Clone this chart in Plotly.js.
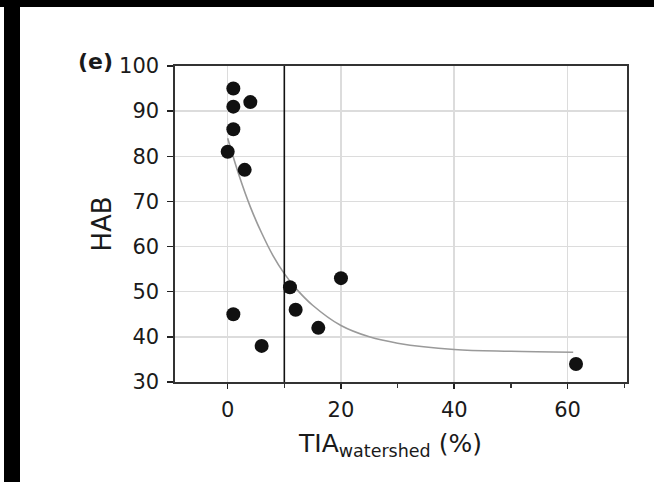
<!DOCTYPE html>
<html>
<head>
<meta charset="utf-8">
<script src="https://cdn.plot.ly/plotly-3.0.1.min.js"></script>
<style>
  html, body { margin: 0; padding: 0; background: #fff; }
  #wrap { position: relative; width: 654px; height: 482px; overflow: hidden; }
  #chart { position: absolute; left: 0; top: 0; width: 654px; height: 482px; }
  .bar { position: absolute; background: #000; }
</style>
</head>
<body>
<div id="wrap">
  <div id="chart"></div>
  <div class="bar" style="left:0;top:0;width:654px;height:7px;"></div>
  <div class="bar" style="left:4px;top:0;width:16px;height:482px;"></div>
</div>
<script>
// Observed points
const tia = [1, 1, 4, 1, 0, 3, 11, 12, 1, 6, 16, 20, 61.5];
const hab = [95, 91, 92, 86, 81, 77, 51, 46, 45, 38, 42, 53, 34];
// Fitted curve
const fitX = [0, 2, 4, 6, 8, 10, 12, 15, 20, 25, 30, 40, 50, 61];
const fitY = [84, 75.8, 68.8, 63, 58, 54, 50.8, 47, 42.5, 40, 38.6, 37.2, 36.8, 36.6];
// Threshold line
const thresholdX = 10;
// Axis ticks
const xTickVals = [0, 20, 40, 60];
const xTickText = ['0', '20', '40', '60'];
const yTickVals = [30, 40, 50, 60, 70, 80, 90, 100];
const yTickText = ['30', '40', '50', '60', '70', '80', '90', '100'];
// Texts
const xTitle = 'TIA<sub>watershed</sub> (%)';
const yTitle = 'HAB';
const panelLabel = '<b>(e)</b>';

const FONT = 'DejaVu Sans, Arial, sans-serif';

const traces = [
  {
    x: fitX, y: fitY, type: 'scatter', mode: 'lines',
    line: { color: '#9a9a9a', width: 1.6, shape: 'spline' },
    hoverinfo: 'skip', showlegend: false
  },
  {
    x: tia, y: hab, type: 'scatter', mode: 'markers',
    marker: { color: '#111', size: 14, line: { width: 0 } },
    showlegend: false
  }
];

const layout = {
  width: 654, height: 482,
  margin: { l: 175, r: 27, t: 66, b: 100 },
  paper_bgcolor: '#fff', plot_bgcolor: '#fff',
  font: { family: FONT, color: '#1a1a1a', size: 21 },
  showlegend: false,
  xaxis: {
    range: [-9.3, 70.5],
    tickmode: 'array', tickvals: xTickVals, ticktext: xTickText,
    ticks: 'outside', ticklen: 5, tickwidth: 1.5, tickcolor: '#222',
    minor: { dtick: 10, tick0: 0, ticks: 'outside', ticklen: 4, tickwidth: 1.3, tickcolor: '#333', showgrid: false },
    showgrid: true, gridcolor: '#dcdcdc', gridwidth: 1.5,
    zeroline: false,
    showline: true, linecolor: '#333', linewidth: 1.6, mirror: true,
    tickfont: { family: FONT, size: 21, color: '#1a1a1a' },
    ticklabelstandoff: 3
  },
  yaxis: {
    range: [30, 100],
    tickmode: 'array', tickvals: yTickVals, ticktext: yTickText,
    ticks: 'outside', ticklen: 6, tickwidth: 1.5, tickcolor: '#222',
    showgrid: true, gridcolor: '#dcdcdc', gridwidth: 1.5,
    zeroline: false,
    showline: true, linecolor: '#333', linewidth: 1.6, mirror: true,
    tickfont: { family: FONT, size: 21, color: '#1a1a1a' },
    ticklabelstandoff: 4,
    title: { text: yTitle, font: { family: FONT, size: 26, color: '#1a1a1a' }, standoff: 0 }
  },
  shapes: [
    {
      type: 'line', xref: 'x', yref: 'paper',
      x0: thresholdX, x1: thresholdX, y0: 0, y1: 1,
      line: { color: '#111', width: 1.6 }
    }
  ],
  annotations: [
    {
      text: panelLabel, xref: 'paper', yref: 'paper',
      x: -0.176, y: 1.013, xanchor: 'center', yanchor: 'middle',
      showarrow: false,
      font: { family: FONT, size: 22, color: '#1a1a1a' }
    },
    {
      text: xTitle, xref: 'paper', yref: 'paper',
      x: 0.4757, y: -0.199, xanchor: 'center', yanchor: 'middle',
      showarrow: false,
      font: { family: FONT, size: 25, color: '#1a1a1a' }
    }
  ]
};

Plotly.newPlot('chart', traces, layout, { displayModeBar: false, staticPlot: true });
</script>
</body>
</html>
